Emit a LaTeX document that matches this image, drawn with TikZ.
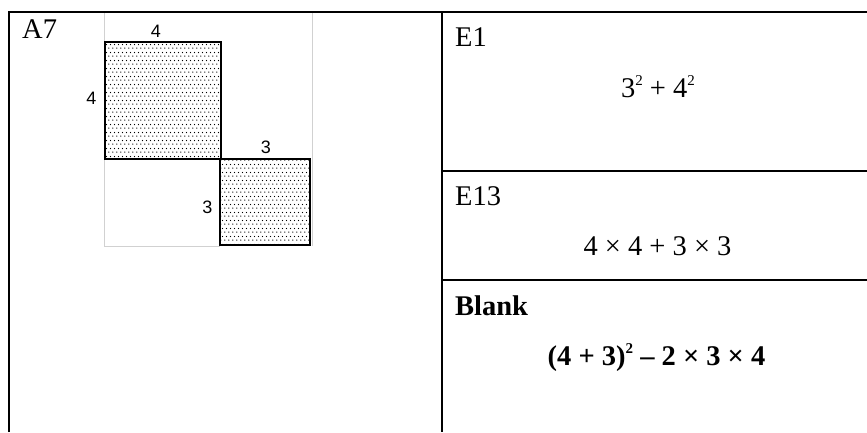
\documentclass[tikz,border=0pt]{standalone}
\usepackage{fontspec}
\setmainfont{Liberation Serif}
\newfontfamily\labsans{Liberation Sans}
\usetikzlibrary{patterns}
\pgfdeclarepatternformonly{mydots}{\pgfpointorigin}{\pgfqpoint{4pt}{8pt}}{\pgfqpoint{4pt}{8pt}}{%
  \pgfpathcircle{\pgfqpoint{1pt}{1pt}}{0.75pt}%
  \pgfpathcircle{\pgfqpoint{3pt}{5pt}}{0.75pt}%
  \pgfusepath{fill}}
\newcommand{\supr}[1]{\raisebox{0.4em}{\fontsize{15}{15}\selectfont #1}}
\begin{document}
\begin{tikzpicture}[x=1pt,y=-1pt,
  tline/.style={line width=2pt,black},
  sq/.style={line width=2.4pt,black,pattern=mydots,pattern color=black},
  frame/.style={line width=0.8pt,black!18},
  serif/.style={font=\fontsize{28.5}{32}\selectfont,inner sep=0pt},
  sans/.style={font=\labsans\fontsize{18}{21}\selectfont,inner sep=0pt},
  boldt/.style={font=\fontsize{28.5}{32}\selectfont\bfseries,inner sep=0pt}]
\useasboundingbox (0,0) rectangle (867,432);
% image frame
\draw[frame] (104,12) -- (104,246) -- (220,246);
\draw[frame] (312,12) -- (312,246);
% squares
\draw[sq] (105,42) rectangle (221,159);
\draw[sq] (220,159) rectangle (310,245);
% labels
\node[sans] (l4t) at (156,31) {4};
\node[sans] (l4l) at (91.5,98.5) {4};
\node[sans] (l3t) at (266,147) {3};
\node[sans] (l3l) at (207.5,207.5) {3};
% table
\draw[tline] (9,432) -- (9,12) -- (867,12);
\draw[tline] (442,12) -- (442,432);
\draw[tline] (442,171) -- (867,171);
\draw[tline] (442,280) -- (867,280);
% texts
\node[serif,anchor=base west] (a7) at (22,38) {A7};
\node[serif,anchor=base west] (e1) at (455,46.5) {E1};
\node[serif,anchor=base] (f1) at (658,97) {3\supr{2} + 4\supr{2}};
\node[serif,anchor=base west] (e13) at (455,205) {E13};
\node[serif,anchor=base] (f2) at (657.5,255) {4 × 4 + 3 × 3};
\node[boldt,anchor=base west] (bl) at (455,315) {Blank};
\node[boldt,anchor=base] (f3) at (656.5,365) {(4 + 3)\supr{\bfseries 2} – 2 × 3 × 4};
\end{tikzpicture}
\end{document}
